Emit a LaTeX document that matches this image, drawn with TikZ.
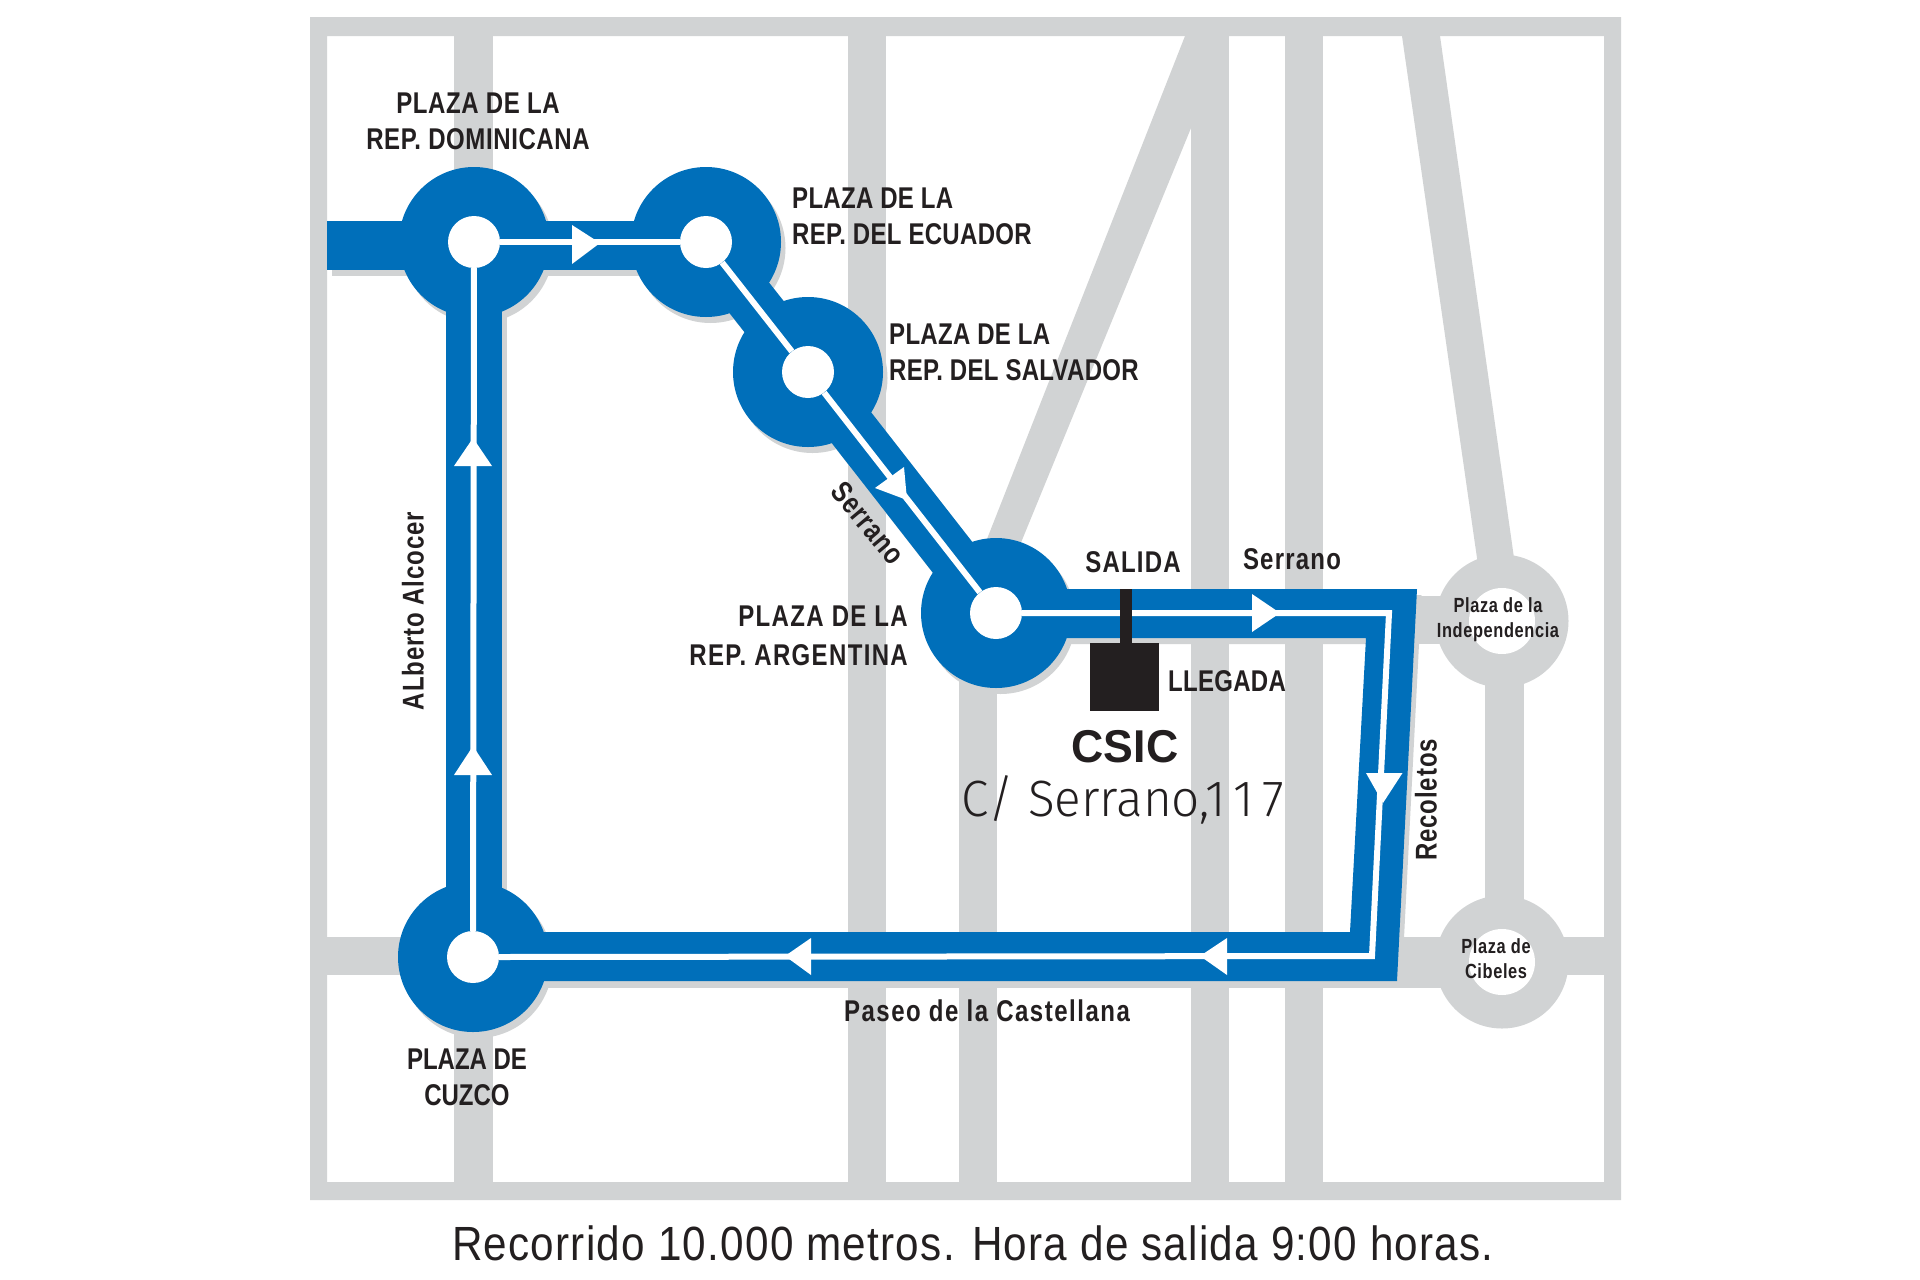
\documentclass[tikz,border=0pt]{standalone}
\usepackage{fontspec}
\newfontfamily\condbold[FakeStretch=0.8]{Liberation Sans}
\newfontfamily\widebold[FakeStretch=0.97]{Liberation Sans}
\newfontfamily\lightaddr[FakeStretch=0.97]{Fira Sans Light}
\newfontfamily\condreg[FakeStretch=0.88]{Liberation Sans}
\newcommand{\lsf}[1]{\condbold\bfseries\fontsize{30}{36}\selectfont\addfontfeature{LetterSpace=#1}}
\newcommand{\lss}[1]{\condbold\bfseries\fontsize{20.5}{25}\selectfont\addfontfeature{LetterSpace=#1}}
\definecolor{roadgrey}{HTML}{D1D3D4}
\definecolor{routeblue}{HTML}{006FBA}
\definecolor{inkblack}{HTML}{231F20}
\tikzset{
  roadfill/.style={fill=roadgrey},
  plazagrey/.style={circle,fill=roadgrey,minimum size=133pt,inner sep=0pt},
  holebig/.style={circle,fill=white,minimum size=52pt,inner sep=0pt},
  holegrey/.style={circle,fill=white,minimum size=66pt,inner sep=0pt},
  whiteline/.style={draw=white,line width=6pt,line join=miter},
  arrowtri/.style={fill=white},
  labelbig/.style={font=\lsf{1},text=inkblack,inner sep=0pt,align=center},
  labelsmall/.style={font=\lss{3},text=inkblack,inner sep=0pt,align=center},
}
\newcommand{\routeshape}[1]{%
  \fill[#1] (327,221) rectangle (705,270);
  \fill[#1] (446,242) rectangle (502,957);
  \draw[#1,line width=50pt,line join=round] (705,242) -- (808,372) -- (996,613);
  \fill[#1] (996,589) -- (1417,589) -- (1397,981) -- (473,981) -- (473,932) -- (1350,932) -- (1366,638) -- (996,638) -- cycle;
  \fill[#1] (474,242) circle[radius=75];
  \fill[#1] (706,242) circle[radius=75];
  \fill[#1] (808,372) circle[radius=75];
  \fill[#1] (996,613) circle[radius=75];
  \fill[#1] (473,957) circle[radius=75];
}
\begin{document}
\begin{tikzpicture}[x=1pt,y=-1pt]
\useasboundingbox (0,0) rectangle (1920,1280);
\fill[white] (0,0) rectangle (1920,1280);
% frame
\fill[roadgrey,even odd rule] (310,17) rectangle (1621,1200) (327,36) rectangle (1604,1182);
% streets
\fill[roadfill] (454,36) rectangle (493,1182);
\fill[roadfill] (848,36) rectangle (886,1182);
\fill[roadfill] (959,613) rectangle (997,1182);
\fill[roadfill] (1191,36) rectangle (1229,1182);
\fill[roadfill] (1285,36) rectangle (1323,1182);
\fill[roadfill] (1185,36) -- (1229,36) -- (1191,128) -- (1020,545) -- (987,539) -- cycle;
\fill[roadfill] (1402,36) -- (1440,36) -- (1515,565) -- (1478,565) -- cycle;
\fill[roadfill] (1485,621) rectangle (1524,962);
\fill[roadfill] (327,937) rectangle (1604,975);
\fill[roadfill] (473,975) rectangle (1450,988);
\fill[roadfill] (1380,596) rectangle (1470,644);
% outer plazas
\node[plazagrey] (indep) at (1502,621) {};
\node[plazagrey] (cibel) at (1502,962) {};
\node[holegrey] (indephole) at (1502,621) {};
\node[holegrey] (cibelhole) at (1502,962) {};
% route shadow
\begin{scope}[shift={(4.5,6)}]
\routeshape{roadgrey}
\end{scope}
% route
\routeshape{routeblue}
% named stops
\node[holebig] (dom) at (474,242) {};
\node[holebig] (ecu) at (706,242) {};
\node[holebig] (sal) at (808,372) {};
\node[holebig] (arg) at (996,613) {};
\node[holebig] (cuz) at (473,957) {};
\coordinate (ne) at (1389,613);
\coordinate (se) at (1372,956);
% white route line
\draw[whiteline] (dom) -- (ecu);
\draw[whiteline] (ecu) -- (sal);
\draw[whiteline] (sal) -- (arg);
\draw[whiteline] (arg.east) -- (ne) -- (se) -- (cuz.east);
\draw[whiteline] (cuz) -- (dom);
% arrowheads
\fill[arrowtri] (572,225) -- (600,243) -- (572,264) -- cycle;
\fill[arrowtri] (473,438) -- (492,466) -- (454,466) -- cycle;
\fill[arrowtri] (473,746) -- (492,775) -- (454,775) -- cycle;
\fill[arrowtri] (875,488) -- (904,467) -- (907,500) -- cycle;
\fill[arrowtri] (1252,594) -- (1280,613) -- (1252,632) -- cycle;
\fill[arrowtri] (1366,773) -- (1402.5,773) -- (1383,803) -- cycle;
\fill[arrowtri] (1227,938) -- (1200,956) -- (1227,975) -- cycle;
\fill[arrowtri] (811,938) -- (785,956) -- (811,975) -- cycle;
% CSIC building
\fill[inkblack] (1120,589) rectangle (1132,643);
\fill[inkblack] (1090,643) rectangle (1159,711);
% labels
\node[labelbig,font=\lsf{2}] (tdom) at (478,121) {PLAZA DE LA\\REP. DOMINICANA};
\node[labelbig,align=left,anchor=west] (tecu) at (792,216) {PLAZA DE LA\\REP. DEL ECUADOR};
\node[labelbig,align=left,anchor=west] (tsal) at (889,352) {PLAZA DE LA\\REP. DEL SALVADOR};
\node[labelbig,font=\lsf{4.5},align=right,anchor=east] (targ) at (908,636) {PLAZA DE LA\\[3pt]REP. ARGENTINA};
\node[labelbig,font=\lsf{0}] (tcuz) at (467,1077) {PLAZA DE\\CUZCO};
\node[labelbig,font=\lsf{3},rotate=90] (talb) at (413,611) {ALberto Alcocer};
\node[labelbig,font=\lsf{3},rotate=-50] (tser) at (868,523) {Serrano};
\node[labelbig,font=\lsf{4}] (tsal2) at (1133,562) {SALIDA};
\node[labelbig,font=\lsf{4}] (tser2) at (1292,559) {Serrano};
\node[labelbig] (tlle) at (1227,681) {LLEGADA};
\node[labelbig,font=\widebold\bfseries\fontsize{46}{50}\selectfont] (tcsic) at (1125,747) {CSIC};
\node[labelbig,font=\lightaddr\fontsize{51}{54}\selectfont] (taddr) at (1123,800) {C/ Serrano,1\,1\,7};
\node[labelbig,font=\lsf{3},rotate=90] (trec) at (1426,800) {Recoletos};
\node[labelbig,font=\lsf{5}] (tpas) at (987,1011) {Paseo de la Castellana};
\node[labelsmall] (tind) at (1498,620) {Plaza de la\\Independencia};
\node[labelsmall] (tcib) at (1496,959) {Plaza de\\Cibeles};
\node[labelbig,font=\condreg\fontsize{48}{50}\selectfont\addfontfeature{LetterSpace=2.6}] (tfoot) at (973,1243) {Recorrido 10.000 metros. Hora de salida 9:00 horas.};
\end{tikzpicture}
\end{document}
